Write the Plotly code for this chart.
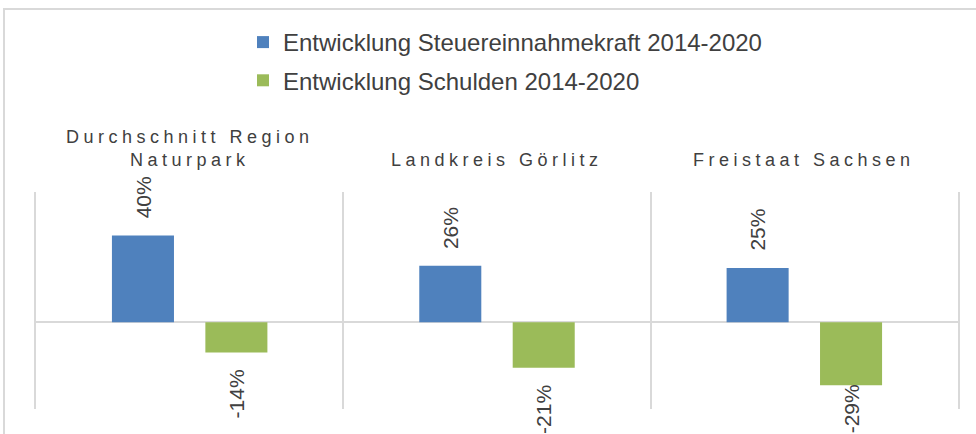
import plotly.graph_objects as go

categories = ["Durchschnitt Region<br>Naturpark", "Landkreis Görlitz", "Freistaat Sachsen"]
series_names = ["Entwicklung Steuereinnahmekraft 2014-2020", "Entwicklung Schulden 2014-2020"]
steuer = [0.40, 0.26, 0.25]
schulden = [-0.14, -0.21, -0.29]
colors = ["#4F81BD", "#9BBB59"]

FONT = "Liberation Sans, Arial, Helvetica, sans-serif"
TXT = "#404040"
GRID = "#d9d9d9"
LABEL_FLOOR = -0.21  # Excel-like clamp of outside labels at the chart bottom
SPAN = '<span style="letter-spacing:4.5px">'

cat_keys = [c.replace("<br>", " ") for c in categories]

fig = go.Figure()
for i, (name, vals, col) in enumerate(zip(series_names, [steuer, schulden], colors)):
    fig.add_trace(go.Bar(
        x=cat_keys, y=vals, name=name, legendgroup=f"g{i}",
        marker=dict(color=col, line=dict(width=0)),
    ))

annotations = []
# category labels above the plot area
for key, lab in zip(cat_keys, categories):
    spaced = "<br>".join(SPAN + part + "</span>" for part in lab.split("<br>"))
    annotations.append(dict(
        x=key, xref="x", y=1.09, yref="paper", yanchor="bottom",
        text=spaced, showarrow=False, font=dict(family=FONT, size=18, color=TXT),
    ))

# value labels (rotated)
offsets = [-46.7, 46.7]
for vals, dx in zip([steuer, schulden], offsets):
    for key, v in zip(cat_keys, vals):
        txt = f"{round(v*100)}%"
        if v >= 0:
            annotations.append(dict(x=key, y=v, xref="x", yref="y", xshift=dx, yshift=15,
                                    yanchor="bottom", text=txt, textangle=-90, showarrow=False,
                                    font=dict(family=FONT, size=21, color=TXT)))
        else:
            annotations.append(dict(x=key, y=max(v, LABEL_FLOOR), xref="x", yref="y", xshift=dx,
                                    yshift=-15, yanchor="top", text=txt, textangle=-90,
                                    showarrow=False, font=dict(family=FONT, size=21, color=TXT)))

fig.update_layout(
    width=976, height=434,
    margin=dict(l=36, r=18, t=192, b=25, autoexpand=False),
    paper_bgcolor="white", plot_bgcolor="white",
    barmode="group", bargap=0.392, bargroupgap=0.336,
    showlegend=True,
    legend=dict(orientation="v", xref="container", yref="container",
                x=243/976, xanchor="left", y=1-20/434, yanchor="top",
                font=dict(family=FONT, size=24, color=TXT),
                bgcolor="rgba(0,0,0,0)", tracegroupgap=4, traceorder="grouped"),
    xaxis=dict(type="category", tickson="boundaries", showgrid=True, gridcolor=GRID,
               gridwidth=1.5, showticklabels=False, ticks="", showline=False, zeroline=False),
    yaxis=dict(range=[-0.40, 0.60], showgrid=False, zeroline=True, zerolinecolor=GRID,
               zerolinewidth=2, showticklabels=False, ticks="", showline=True, mirror=True,
               linecolor=GRID, linewidth=1.5),
    annotations=annotations,
    shapes=[dict(type="rect", xref="paper", yref="paper", x0=-0.0347, x1=1.1,
                 y0=-0.4, y1=1.843, line=dict(color=GRID, width=2), layer="below")],
)

fig.write_html("out.html", config={"displayModeBar": False},
               post_script="document.body.style.margin='0';document.body.style.padding='0';")
